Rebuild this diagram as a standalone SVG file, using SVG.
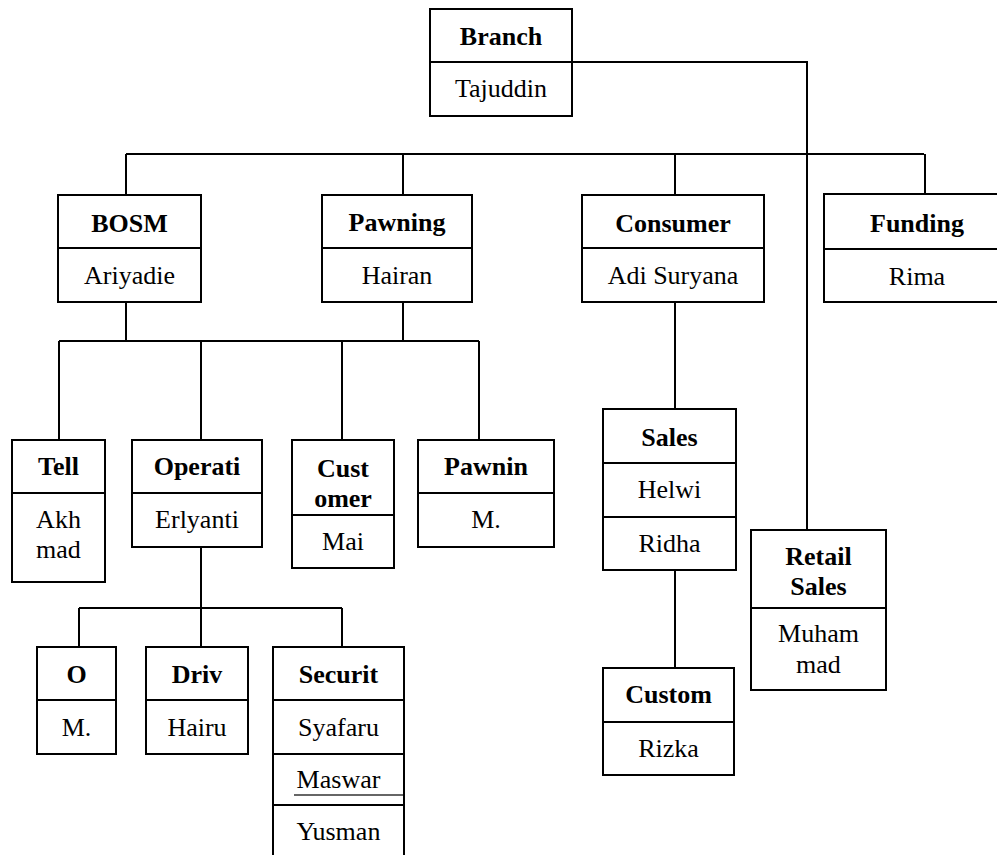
<svg xmlns="http://www.w3.org/2000/svg" width="997" height="855" viewBox="0 0 997 855">
<style>
.box{fill:#fff;stroke:#000;stroke-width:2}
.div{stroke:#000;stroke-width:2}
.con{fill:none;stroke:#000;stroke-width:2}
text{font-family:"Liberation Serif","Times New Roman",serif;font-size:26px;text-anchor:middle;fill:#000}
.h{font-weight:bold}
</style>
<rect width="997" height="855" fill="#fff"/>
<g id="connectors">
<polyline class="con" points="572,62 807,62 807,530"/>
<line class="con" x1="126" y1="154" x2="924" y2="154"/>
<line class="con" x1="126" y1="154" x2="126" y2="195"/>
<line class="con" x1="403" y1="154" x2="403" y2="195"/>
<line class="con" x1="675" y1="154" x2="675" y2="195"/>
<line class="con" x1="925" y1="154" x2="925" y2="194"/>
<line class="con" x1="126" y1="302" x2="126" y2="341"/>
<line class="con" x1="403" y1="302" x2="403" y2="341"/>
<line class="con" x1="59" y1="341" x2="479" y2="341"/>
<line class="con" x1="59" y1="341" x2="59" y2="440"/>
<line class="con" x1="201" y1="341" x2="201" y2="440"/>
<line class="con" x1="342" y1="341" x2="342" y2="440"/>
<line class="con" x1="479" y1="341" x2="479" y2="440"/>
<line class="con" x1="201" y1="547" x2="201" y2="647"/>
<line class="con" x1="79" y1="608" x2="342" y2="608"/>
<line class="con" x1="79" y1="608" x2="79" y2="647"/>
<line class="con" x1="342" y1="608" x2="342" y2="647"/>
<line class="con" x1="675" y1="302" x2="675" y2="409"/>
<line class="con" x1="675" y1="570" x2="675" y2="668"/>
</g>
<g id="branch">
<rect class="box" x="430" y="9" width="142" height="107"/>
<line class="div" x1="430" y1="62" x2="572" y2="62"/>
<text class="h" x="501" y="45">Branch</text>
<text x="501" y="97">Tajuddin</text>
</g>
<g id="bosm">
<rect class="box" x="58" y="195" width="143" height="107"/>
<line class="div" x1="58" y1="248" x2="201" y2="248"/>
<text class="h" x="129.5" y="232">BOSM</text>
<text x="129.5" y="284">Ariyadie</text>
</g>
<g id="pawning">
<rect class="box" x="322" y="195" width="150" height="107"/>
<line class="div" x1="322" y1="248" x2="472" y2="248"/>
<text class="h" x="397" y="231">Pawning</text>
<text x="397" y="284">Hairan</text>
</g>
<g id="consumer">
<rect class="box" x="582" y="195" width="182" height="107"/>
<line class="div" x1="582" y1="248" x2="764" y2="248"/>
<text class="h" x="673" y="232">Consumer</text>
<text x="673" y="284">Adi Suryana</text>
</g>
<g id="funding">
<rect class="box" x="824" y="194" width="186" height="108"/>
<line class="div" x1="824" y1="249" x2="1010" y2="249"/>
<text class="h" x="917" y="232">Funding</text>
<text x="917" y="285">Rima</text>
</g>
<g id="teller">
<rect class="box" x="12" y="440" width="93" height="142"/>
<line class="div" x1="12" y1="493" x2="105" y2="493"/>
<text class="h" x="58.5" y="475">Tell</text>
<text x="58.5" y="528">Akh</text>
<text x="58.5" y="558">mad</text>
</g>
<g id="operations">
<rect class="box" x="132" y="440" width="130" height="107"/>
<line class="div" x1="132" y1="493" x2="262" y2="493"/>
<text class="h" x="197" y="475">Operati</text>
<text x="197" y="528">Erlyanti</text>
</g>
<g id="customer-service">
<rect class="box" x="292" y="440" width="102" height="128"/>
<line class="div" x1="292" y1="515" x2="394" y2="515"/>
<text class="h" x="343" y="477">Cust</text>
<text class="h" x="343" y="507">omer</text>
<text x="343" y="550">Mai</text>
</g>
<g id="pawning-staff">
<rect class="box" x="418" y="440" width="136" height="107"/>
<line class="div" x1="418" y1="493" x2="554" y2="493"/>
<text class="h" x="486" y="475">Pawnin</text>
<text x="486" y="528">M.</text>
</g>
<g id="ob">
<rect class="box" x="37" y="647" width="79" height="107"/>
<line class="div" x1="37" y1="700" x2="116" y2="700"/>
<text class="h" x="76.5" y="683">O</text>
<text x="76.5" y="736">M.</text>
</g>
<g id="driver">
<rect class="box" x="146" y="647" width="102" height="107"/>
<line class="div" x1="146" y1="700" x2="248" y2="700"/>
<text class="h" x="197" y="683">Driv</text>
<text x="197" y="736">Hairu</text>
</g>
<g id="security">
<rect class="box" x="273" y="647" width="131" height="215"/>
<line class="div" x1="273" y1="700" x2="404" y2="700"/>
<line class="div" x1="273" y1="754" x2="404" y2="754"/>
<line class="div" x1="273" y1="805" x2="404" y2="805"/>
<line x1="294" y1="795" x2="403" y2="795" stroke="#333" stroke-width="1.5"/>
<text class="h" x="338.5" y="683">Securit</text>
<text x="338.5" y="736">Syafaru</text>
<text x="338.5" y="788">Maswar</text>
<text x="338.5" y="840">Yusman</text>
</g>
<g id="sales">
<rect class="box" x="603" y="409" width="133" height="161"/>
<line class="div" x1="603" y1="463" x2="736" y2="463"/>
<line class="div" x1="603" y1="517" x2="736" y2="517"/>
<text class="h" x="669.5" y="446">Sales</text>
<text x="669.5" y="498">Helwi</text>
<text x="669.5" y="552">Ridha</text>
</g>
<g id="customer">
<rect class="box" x="603" y="668" width="131" height="107"/>
<line class="div" x1="603" y1="722" x2="734" y2="722"/>
<text class="h" x="668.5" y="703">Custom</text>
<text x="668.5" y="757">Rizka</text>
</g>
<g id="retail-sales">
<rect class="box" x="751" y="530" width="135" height="160"/>
<line class="div" x1="751" y1="608" x2="886" y2="608"/>
<text class="h" x="818.5" y="565">Retail</text>
<text class="h" x="818.5" y="595">Sales</text>
<text x="818.5" y="642">Muham</text>
<text x="818.5" y="673">mad</text>
</g>
</svg>
